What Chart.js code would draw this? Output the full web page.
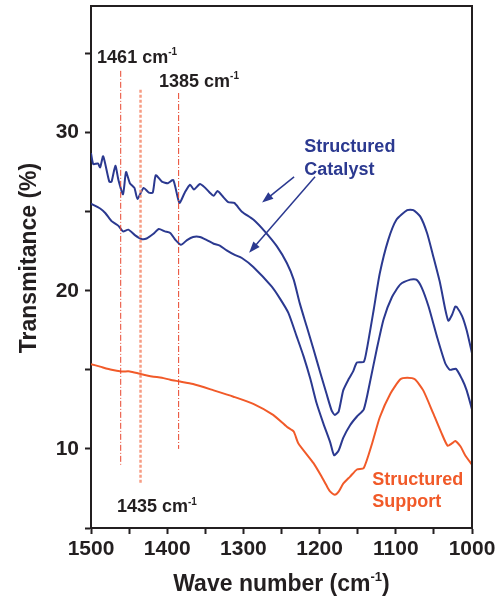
<!DOCTYPE html>
<html>
<head>
<meta charset="utf-8">
<script src="https://cdn.jsdelivr.net/npm/chart.js@4.4.1/dist/chart.umd.min.js"></script>
<style>
  body { margin: 0; background: #fff; }
  #grafico { display: block; }
</style>
</head>
<body>
<canvas id="grafico" width="503" height="605"></canvas>
<script>
// Catalisador estruturado - curva superior (número de onda, transmitância)
const catalisadorSupX = [1500, 1497, 1491, 1488, 1484, 1476, 1473, 1468, 1464, 1458, 1454, 1449, 1443, 1439, 1431, 1424, 1419, 1415, 1407, 1399, 1392, 1384, 1377, 1370, 1365, 1357, 1350, 1344, 1339, 1334, 1326, 1320, 1312, 1302, 1287, 1272, 1256, 1243, 1234, 1226, 1217, 1208, 1199, 1191, 1184, 1180, 1175, 1169, 1162, 1156, 1151, 1142, 1138, 1129, 1121, 1110, 1099, 1085, 1077, 1068, 1059, 1051, 1042, 1035, 1031, 1026, 1022, 1020, 1013, 1007, 1000];
const catalisadorSupY = [28.7, 28.0, 28.05, 27.8, 28.5, 26.9, 26.9, 27.9, 27.0, 26.1, 27.5, 26.8, 26.5, 25.8, 26.5, 26.2, 26.2, 27.3, 26.9, 26.8, 27.0, 25.55, 26.2, 26.7, 26.4, 26.75, 26.5, 26.2, 26.0, 26.3, 25.9, 25.6, 25.55, 25.0, 24.5, 23.75, 22.8, 21.75, 20.7, 19.2, 17.75, 16.3, 14.8, 13.5, 12.4, 12.15, 12.36, 13.7, 14.4, 14.9, 15.46, 15.5, 16.3, 18.8, 21.1, 23.2, 24.5, 25.1, 25.1, 24.7, 23.65, 22.2, 20.5, 18.8, 18.1, 18.5, 19.0, 18.97, 18.4, 17.5, 16.05];

// Catalisador estruturado - curva inferior
const catalisadorInfX = [1500, 1488, 1481, 1473, 1464, 1458, 1451, 1442, 1434, 1427, 1418, 1411, 1403, 1396, 1389, 1382, 1374, 1366, 1357, 1348, 1339, 1331, 1322, 1312, 1302, 1287, 1263, 1252, 1241, 1230, 1221, 1212, 1204, 1195, 1186, 1181, 1175, 1169, 1160, 1151, 1142, 1134, 1125, 1116, 1105, 1094, 1081, 1073, 1066, 1057, 1046, 1035, 1029, 1021, 1013, 1007, 1000];
const catalisadorInfY = [25.5, 25.2, 24.9, 24.4, 24.1, 23.75, 23.86, 23.5, 23.27, 23.3, 23.6, 23.9, 23.75, 23.65, 23.2, 22.9, 23.2, 23.4, 23.4, 23.2, 22.97, 22.85, 22.55, 22.28, 22.07, 21.5, 20.27, 19.5, 18.6, 17.1, 15.85, 14.4, 12.9, 11.6, 10.4, 9.6, 9.9, 10.7, 11.5, 12.05, 12.5, 14.2, 16.3, 18.2, 19.6, 20.4, 20.7, 20.7, 20.2, 19.0, 17.1, 15.4, 15.0, 15.06, 14.4, 13.7, 12.5];

// Suporte estruturado
const suporteX = [1500, 1488, 1473, 1460, 1449, 1436, 1420, 1407, 1396, 1383, 1366, 1339, 1313, 1287, 1261, 1243, 1234, 1228, 1208, 1198, 1190, 1186, 1180, 1175, 1169, 1160, 1151, 1142, 1131, 1121, 1107, 1094, 1085, 1075, 1064, 1051, 1040, 1032, 1026, 1022, 1015, 1009, 1000];
const suporteY = [15.36, 15.2, 15.0, 14.9, 14.9, 14.75, 14.58, 14.5, 14.37, 14.26, 14.1, 13.7, 13.3, 12.85, 12.15, 11.4, 11.1, 10.36, 9.1, 8.3, 7.6, 7.3, 7.1, 7.3, 7.8, 8.25, 8.7, 8.8, 10.36, 12.0, 13.5, 14.4, 14.5, 14.4, 13.7, 12.26, 11.0, 10.2, 10.36, 10.5, 10.15, 9.6, 9.0];

// Linhas de referência das bandas
const bandas = [1461, 1435, 1385];
const bandasTopo = [33.9, 32.7, 32.5];
const bandasBase = [9.0, 7.85, 10.0];

// Rótulos dos eixos
const ticksY = [10, 20, 30];
const ticksX = [1500, 1400, 1300, 1200, 1100, 1000];

const AZUL = '#2b3990';
const LARANJA = '#f15a29';
const PRETO = '#231f20';
const FONTE = '"Liberation Sans", Arial, sans-serif';

function montarPontos(xs, ys) {
  return xs.map((x, i) => ({ x, y: ys[i] }));
}

function datasetCurva(xs, ys, cor) {
  return {
    data: montarPontos(xs, ys),
    borderColor: cor,
    borderWidth: 2,
    pointRadius: 0,
    tension: 0.2,
    fill: false
  };
}

function datasetBanda(i) {
  const clara = i === 1;
  return {
    data: [{ x: bandas[i], y: bandasTopo[i] }, { x: bandas[i], y: bandasBase[i] }],
    borderColor: clara ? 'rgba(244,140,110,0.85)' : '#e8452c',
    borderWidth: clara ? 2.5 : 1,
    borderDash: clara ? [3, 2] : [6, 2, 1, 2],
    pointRadius: 0,
    fill: false
  };
}

// texto com expoente (cm-1)
function textoComExpoente(ctx, antes, expoente, depois, x, y, tam, alinhar) {
  ctx.font = `bold ${tam}px ${FONTE}`;
  const wA = ctx.measureText(antes).width;
  ctx.font = `bold ${Math.round(tam * 0.55)}px ${FONTE}`;
  const wE = ctx.measureText(expoente).width;
  ctx.font = `bold ${tam}px ${FONTE}`;
  const wD = ctx.measureText(depois).width;
  const total = wA + wE + wD;
  let x0 = x;
  if (alinhar === 'center') x0 = x - total / 2;
  ctx.textAlign = 'left';
  ctx.textBaseline = 'alphabetic';
  ctx.fillText(antes, x0, y);
  ctx.font = `bold ${Math.round(tam * 0.55)}px ${FONTE}`;
  ctx.fillText(expoente, x0 + wA, y - tam * 0.42);
  ctx.font = `bold ${tam}px ${FONTE}`;
  ctx.fillText(depois, x0 + wA + wE, y);
}

function seta(ctx, x1, y1, x2, y2) {
  const ang = Math.atan2(y2 - y1, x2 - x1);
  ctx.beginPath();
  ctx.moveTo(x1, y1);
  ctx.lineTo(x2 - 6 * Math.cos(ang), y2 - 6 * Math.sin(ang));
  ctx.stroke();
  ctx.beginPath();
  ctx.moveTo(x2, y2);
  ctx.lineTo(x2 - 12 * Math.cos(ang - 0.35), y2 - 12 * Math.sin(ang - 0.35));
  ctx.lineTo(x2 - 12 * Math.cos(ang + 0.35), y2 - 12 * Math.sin(ang + 0.35));
  ctx.closePath();
  ctx.fill();
}

// tira o espaço extra que o Chart.js reserva para meio rótulo
function semPaddingDeRotulo(s) {
  s.paddingTop = 0;
  s.paddingBottom = 0;
  s.paddingLeft = 0;
  s.paddingRight = 0;
}

const anotacoes = {
  id: 'anotacoes',
  afterDraw(chart) {
    const { ctx, chartArea, scales } = chart;
    const px = v => scales.x.getPixelForValue(v);
    const py = v => scales.y.getPixelForValue(v);
    ctx.save();

    // moldura superior e direita
    ctx.strokeStyle = PRETO;
    ctx.lineWidth = 2;
    ctx.beginPath();
    ctx.moveTo(chartArea.left, chartArea.top);
    ctx.lineTo(chartArea.right, chartArea.top);
    ctx.lineTo(chartArea.right, chartArea.bottom);
    ctx.stroke();

    // títulos dos eixos
    ctx.fillStyle = PRETO;
    textoComExpoente(ctx, 'Wave number (cm', '-1', ')', (chartArea.left + chartArea.right) / 2, 591, 23, 'center');
    ctx.save();
    ctx.translate(36, 258);
    ctx.rotate(-Math.PI / 2);
    ctx.font = `bold 23px ${FONTE}`;
    ctx.textAlign = 'center';
    ctx.textBaseline = 'alphabetic';
    ctx.fillText('Transmitance (%)', 0, 0);
    ctx.restore();

    // rótulos das bandas
    textoComExpoente(ctx, '1461 cm', '-1', '', px(1492), py(34.4), 18);
    textoComExpoente(ctx, '1385 cm', '-1', '', px(1410.7), py(32.9), 18);
    textoComExpoente(ctx, '1435 cm', '-1', '', px(1465.9), py(6.0), 18);

    // legendas das curvas
    ctx.font = `bold 18px ${FONTE}`;
    ctx.textAlign = 'left';
    ctx.fillStyle = AZUL;
    ctx.fillText('Structured', px(1220), py(28.8));
    ctx.fillText('Catalyst', px(1220), py(27.3));
    ctx.fillStyle = LARANJA;
    ctx.fillText('Structured', px(1131), py(7.72));
    ctx.fillText('Support', px(1131), py(6.33));

    // setas
    ctx.strokeStyle = AZUL;
    ctx.fillStyle = AZUL;
    ctx.lineWidth = 1.5;
    seta(ctx, px(1233.5), py(27.2), px(1275.5), py(25.57));
    seta(ctx, px(1206), py(27.2), px(1292.5), py(22.4));

    ctx.restore();
  }
};

new Chart(document.getElementById('grafico').getContext('2d'), {
  type: 'line',
  data: {
    datasets: [
      datasetBanda(0),
      datasetBanda(1),
      datasetBanda(2),
      datasetCurva(suporteX, suporteY, LARANJA),
      datasetCurva(catalisadorInfX, catalisadorInfY, AZUL),
      datasetCurva(catalisadorSupX, catalisadorSupY, AZUL)
    ]
  },
  options: {
    responsive: false,
    animation: false,
    layout: { autoPadding: false, padding: { top: 6, right: 31, left: 0, bottom: 0 } },
    plugins: { legend: { display: false }, tooltip: { enabled: false } },
    scales: {
      x: {
        type: 'linear',
        reverse: true,
        min: 1000,
        max: 1500,
        afterFit: s => { s.height = 77; semPaddingDeRotulo(s); },
        ticks: {
          stepSize: 50,
          autoSkip: false,
          maxRotation: 0,
          padding: 3,
          color: PRETO,
          font: { family: FONTE, size: 21, weight: 'bold' },
          callback: v => ticksX.includes(v) ? v : ''
        },
        grid: { drawOnChartArea: false, tickLength: 6, tickWidth: 2, color: PRETO },
        border: { color: PRETO, width: 2 }
      },
      y: {
        min: 5,
        max: 38,
        afterFit: s => { s.width = 91; semPaddingDeRotulo(s); },
        ticks: {
          stepSize: 5,
          padding: 6,
          color: PRETO,
          font: { family: FONTE, size: 21, weight: 'bold' },
          callback: v => ticksY.includes(v) ? v : ''
        },
        grid: {
          drawOnChartArea: false,
          tickLength: 6,
          tickWidth: 2,
          color: c => (c.tick && c.tick.value % 5 === 0) ? PRETO : 'rgba(0,0,0,0)'
        },
        border: { color: PRETO, width: 2 }
      }
    }
  },
  plugins: [anotacoes]
});
</script>
</body>
</html>
